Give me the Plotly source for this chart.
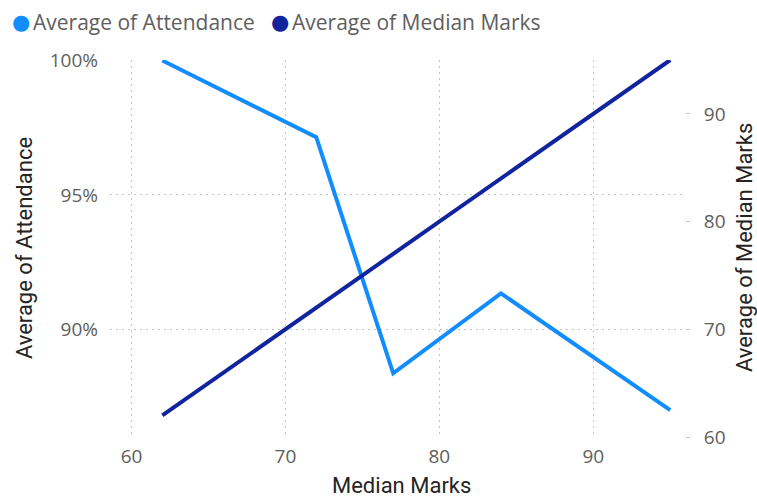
import plotly.graph_objects as go

# Median marks (x), average attendance (left axis) and average median marks (right axis)
median_marks = [62, 72, 77, 84, 95]
avg_attendance = [1.000, 0.9715, 0.8837, 0.9134, 0.870]
avg_median_marks = [62, 72, 77, 84, 95]

series_names = ["Average of Attendance", "Average of Median Marks"]
attendance_color = "#118DFF"
marks_color = "#12239E"
tick_color = "#605E5C"
title_color = "#252423"
grid_color = "#C4C4C4"

fig = go.Figure()

fig.add_trace(go.Scatter(
    x=median_marks, y=avg_attendance, mode="lines",
    line=dict(color=attendance_color, width=4),
    name=series_names[0], yaxis="y",
))
fig.add_trace(go.Scatter(
    x=median_marks, y=avg_median_marks, mode="lines",
    line=dict(color=marks_color, width=4),
    name=series_names[1], yaxis="y2",
))

PLOT_L, PLOT_W, PLOT_B, PLOT_H = 110, 575, 437, 377


def px_x(px):
    return (px - PLOT_L) / PLOT_W


def px_y(py):
    return (PLOT_B - py) / PLOT_H


title_font = dict(family="Roboto", size=22, color=title_color)

annotations = []
# legend row: round colour dot followed by series name
for name, color, dot_x in zip(series_names, [attendance_color, marks_color], [21, 280]):
    annotations.append(dict(
        text="●", xref="paper", yref="paper", x=px_x(dot_x), y=px_y(22),
        showarrow=False, xanchor="center", yanchor="middle",
        font=dict(family="DejaVu Sans", size=21, color=color)))
    annotations.append(dict(
        text=name, xref="paper", yref="paper", x=px_x(dot_x + 10), y=px_y(22),
        showarrow=False, xanchor="left", yanchor="middle",
        font=dict(family="Open Sans", size=21, color=tick_color)))

annotations += [
    dict(text="Average of Attendance", xref="paper", yref="paper",
         x=px_x(24), y=0.501, textangle=-90, showarrow=False,
         xanchor="center", yanchor="middle", font=title_font),
    dict(text="Average of Median Marks", xref="paper", yref="paper",
         x=px_x(744), y=0.501, textangle=-90, showarrow=False,
         xanchor="center", yanchor="middle", font=title_font),
    dict(text="Median Marks", xref="paper", yref="paper",
         x=px_x(401), y=px_y(485), showarrow=False,
         xanchor="center", yanchor="middle", font=title_font),
]

grid_dash = "2px,4px"

fig.update_layout(
    width=757, height=499,
    margin=dict(l=PLOT_L, r=757 - PLOT_L - PLOT_W, t=60, b=499 - PLOT_B,
                autoexpand=False),
    paper_bgcolor="white", plot_bgcolor="white",
    font=dict(family="Open Sans", color=tick_color),
    showlegend=False,
    xaxis=dict(
        range=[58.60, 95.96], tickvals=[60, 70, 80, 90],
        showgrid=True, gridcolor=grid_color, griddash=grid_dash, gridwidth=1,
        showline=False, zeroline=False, ticks="",
        tickfont=dict(size=19, color=tick_color),
        ticklabelstandoff=6,
    ),
    yaxis=dict(
        range=[0.86, 1.0002], tickvals=[0.90, 0.95, 1.00], tickformat=".0%",
        showgrid=True, gridcolor=grid_color, griddash=grid_dash, gridwidth=1,
        showline=False, zeroline=False, ticks="",
        tickfont=dict(size=19, color=tick_color),
        ticklabelstandoff=11,
    ),
    yaxis2=dict(
        range=[60, 95], tickvals=[60, 70, 80, 90],
        overlaying="y", side="right",
        showgrid=False, showline=False, zeroline=False,
        ticks="outside", ticklen=4, tickcolor=grid_color,
        tickfont=dict(size=19, color=tick_color),
        ticklabelstandoff=10,
    ),
    annotations=annotations,
)

fig.write_html("out.html")
